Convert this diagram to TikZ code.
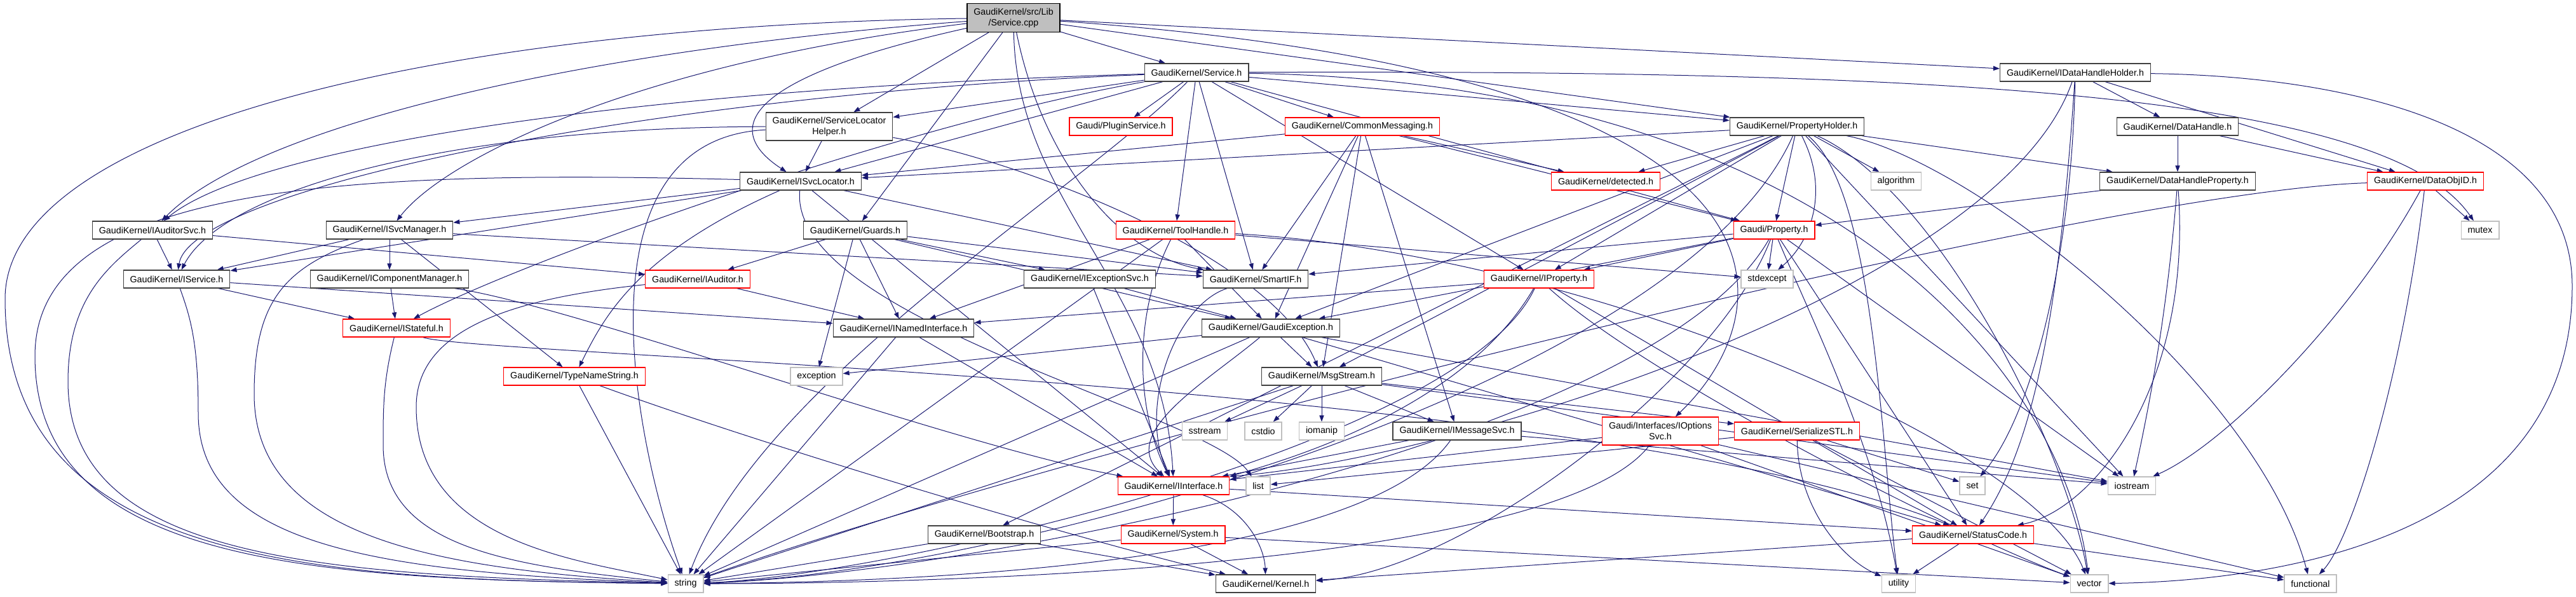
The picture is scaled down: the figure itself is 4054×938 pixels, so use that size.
\documentclass[tikz,border=0pt]{standalone}
\usepackage{fontspec}
\setmainfont{Liberation Sans}
\usetikzlibrary{arrows.meta}
\pgfdeclarelayer{bg}
\pgfsetlayers{bg,main}
\definecolor{edgeblue}{RGB}{25,25,112}
\definecolor{boxgrey}{RGB}{191,191,191}
\definecolor{rimgrey}{RGB}{64,64,64}

\begin{document}
\begin{tikzpicture}[x=0.5pt,y=-0.5pt]
    \tikzstyle{every node}+=[font=\fontsize{7.14}{8.4}\selectfont, inner xsep=5.2pt, inner ysep=0pt, minimum height=14pt, align=center, fill=white, line width=0.65pt]
    \tikzstyle{hdr}=[draw=rimgrey]
    \tikzstyle{trunc}=[draw=red]
    \tikzstyle{stdhdr}=[draw=boxgrey]
    \tikzstyle{rootfile}=[draw=black, fill=boxgrey]
    \tikzstyle{inc}=[edgeblue, line width=0.5pt, -{Triangle[length=5pt,width=3.6pt]}]
    \useasboundingbox (0,0) rectangle (4054,938);
    \node [rootfile, minimum height=22.5pt] (sc) at (1595,28) {GaudiKernel/src/Lib\\/Service.cpp};
    \node [hdr] (sh) at (1883,114) {GaudiKernel/Service.h};
    \node [hdr] (idh) at (3266,114) {GaudiKernel/IDataHandleHolder.h};
    \node [hdr, minimum height=22pt] (slh) at (1305,199) {GaudiKernel/ServiceLocator\\Helper.h};
    \node [trunc] (plg) at (1764,199) {Gaudi/PluginService.h};
    \node [trunc] (cm) at (2144,199) {GaudiKernel/CommonMessaging.h};
    \node [hdr] (ph) at (2828,199) {GaudiKernel/PropertyHolder.h};
    \node [hdr] (dh) at (3427,199) {GaudiKernel/DataHandle.h};
    \node [hdr] (isl) at (1260,285) {GaudiKernel/ISvcLocator.h};
    \node [trunc] (det) at (2527,285) {GaudiKernel/detected.h};
    \node [stdhdr] (alg) at (2984,285) {algorithm};
    \node [hdr] (dhp) at (3427,285) {GaudiKernel/DataHandleProperty.h};
    \node [trunc] (doi) at (3817,285) {GaudiKernel/DataObjID.h};
    \node [hdr] (ias) at (240,362) {GaudiKernel/IAuditorSvc.h};
    \node [hdr] (ism) at (613,362) {GaudiKernel/ISvcManager.h};
    \node [hdr] (grd) at (1346,362) {GaudiKernel/Guards.h};
    \node [trunc] (th) at (1850,362) {GaudiKernel/ToolHandle.h};
    \node [trunc] (prp) at (2792,362) {Gaudi/Property.h};
    \node [stdhdr] (mtx) at (3903,362) {mutex};
    \node [hdr] (isv) at (278,439) {GaudiKernel/IService.h};
    \node [hdr] (icm) at (613,439) {GaudiKernel/IComponentManager.h};
    \node [trunc] (iau) at (1098,439) {GaudiKernel/IAuditor.h};
    \node [hdr] (ies) at (1715,439) {GaudiKernel/IExceptionSvc.h};
    \node [hdr] (sif) at (1976,439) {GaudiKernel/SmartIF.h};
    \node [trunc] (ipr) at (2422,439) {GaudiKernel/IProperty.h};
    \node [stdhdr] (sexc) at (2781,439) {stdexcept};
    \node [trunc] (ist) at (624,516) {GaudiKernel/IStateful.h};
    \node [hdr] (inf) at (1422,516) {GaudiKernel/INamedInterface.h};
    \node [hdr] (gex) at (2000,516) {GaudiKernel/GaudiException.h};
    \node [trunc] (tns) at (904,592) {GaudiKernel/TypeNameString.h};
    \node [stdhdr] (exc) at (1285,592) {exception};
    \node [hdr] (mss) at (2080,592) {GaudiKernel/MsgStream.h};
    \node [stdhdr] (sst) at (1896,678) {sstream};
    \node [stdhdr] (csd) at (1988,678) {cstdio};
    \node [stdhdr] (iom) at (2080,678) {iomanip};
    \node [hdr] (ims) at (2293,678) {GaudiKernel/IMessageSvc.h};
    \node [trunc, minimum height=22pt] (ios) at (2613,678) {Gaudi/Interfaces/IOptions\\Svc.h};
    \node [trunc] (ser) at (2828,678) {GaudiKernel/SerializeSTL.h};
    \node [trunc] (iif) at (1847,764) {GaudiKernel/IInterface.h};
    \node [stdhdr] (lst) at (1980,764) {list};
    \node [stdhdr] (stdset) at (3104,764) {set};
    \node [stdhdr] (iostr) at (3355,764) {iostream};
    \node [hdr] (bts) at (1549,841) {GaudiKernel/Bootstrap.h};
    \node [trunc] (sys) at (1846,841) {GaudiKernel/System.h};
    \node [trunc] (stc) at (3105,841) {GaudiKernel/StatusCode.h};
    \node [stdhdr] (str) at (1079,918) {string};
    \node [hdr] (krn) at (1992,918) {GaudiKernel/Kernel.h};
    \node [stdhdr] (utl) at (2988,918) {utility};
    \node [stdhdr] (vec) at (3288,918) {vector};
    \node [stdhdr] (fnc) at (3636,918) {functional};
    \begin{pgfonlayer}{bg}
    \draw [inc] (sc) -- (sh);
    \draw [inc] (sc) -- (slh);
    \draw [inc] (sc) .. controls (1180,120) and (1130,200) .. (isl);
    \draw [inc] (sc) .. controls (900,80) and (400,200) .. (ias);
    \draw [inc] (sc) .. controls (1000,100) and (700,250) .. (ism);
    \draw [inc] (sc) -- (grd);
    \draw [inc] (sc) -- (idh);
    \draw [inc] (sc) -- (ph);
    \draw [inc] (sc) .. controls (2900,120) and (2800,500) .. (ios);
    \draw [inc] (sc) .. controls (1600,320) and (1830,450) .. (iif);
    \draw [inc] (sc) .. controls (1640,250) and (1760,400) .. (sif);
    \draw [inc] (sc) .. controls (700,40) and (8,200) .. (8,470) .. controls (8,890) and (500,912) .. (str);
    \draw [inc] (sh) -- (cm);
    \draw [inc] (sh) -- (plg);
    \draw [inc] (sh) -- (th);
    \draw [inc] (sh) -- (sif);
    \draw [inc] (sh) -- (ipr);
    \draw [inc] (sh) -- (prp);
    \draw [inc] (sh) -- (ph);
    \draw [inc] (sh) .. controls (1000,140) and (400,230) .. (ias);
    \draw [inc] (sh) .. controls (1000,150) and (300,300) .. (isv);
    \draw [inc] (sh) .. controls (1400,200) and (800,420) .. (ist);
    \draw [inc] (sh) -- (isl);
    \draw [inc] (sh) -- (slh);
    \draw [inc] (sh) .. controls (2900,130) and (3250,600) .. (vec);
    \draw [inc] (sh) .. controls (3000,110) and (3750,140) .. (mtx);
    \draw [inc] (sh) .. controls (1700,300) and (1200,600) .. (str);
    \draw [inc] (slh) -- (isl);
    \draw [inc] (slh) .. controls (700,200) and (350,300) .. (isv);
    \draw [inc] (slh) .. controls (1600,250) and (2000,400) .. (mss);
    \draw [inc] (slh) .. controls (900,220) and (1000,700) .. (str);
    \draw [inc] (isl) -- (iif);
    \draw [inc] (isl) -- (ism);
    \draw [inc] (isl) -- (isv);
    \draw [inc] (isl) -- (sif);
    \draw [inc] (isl) .. controls (1000,400) and (950,500) .. (tns);
    \draw [inc] (isl) .. controls (1240,500) and (1900,650) .. (lst);
    \draw [inc] (isl) .. controls (500,265) and (55,300) .. (55,560) .. controls (55,890) and (500,912) .. (str);
    \draw [inc] (ias) -- (isv);
    \draw [inc] (ias) -- (iau);
    \draw [inc] (ias) .. controls (170,420) and (107,470) .. (107,600) .. controls (107,880) and (500,905) .. (str);
    \draw [inc] (ism) -- (icm);
    \draw [inc] (ism) -- (isv);
    \draw [inc] (ism) -- (tns);
    \draw [inc] (ism) -- (sif);
    \draw [inc] (ism) .. controls (450,420) and (400,470) .. (400,620) .. controls (400,850) and (700,895) .. (str);
    \draw [inc] (icm) -- (ist);
    \draw [inc] (icm) .. controls (900,480) and (1500,700) .. (iif);
    \draw [inc] (isv) -- (inf);
    \draw [inc] (isv) -- (ist);
    \draw [inc] (isv) .. controls (300,500) and (312,540) .. (312,650) .. controls (312,860) and (600,900) .. (str);
    \draw [inc] (ist) .. controls (750,560) and (2500,600) .. (stc);
    \draw [inc] (ist) .. controls (603,600) and (603,640) .. (603,700) .. controls (603,860) and (800,890) .. (str);
    \draw [inc] (iau) -- (inf);
    \draw [inc] (iau) .. controls (800,470) and (655,520) .. (655,640) .. controls (655,850) and (900,880) .. (str);
    \draw [inc] (grd) -- (iau);
    \draw [inc] (grd) -- (ies);
    \draw [inc] (grd) -- (gex);
    \draw [inc] (grd) -- (exc);
    \draw [inc] (grd) -- (inf);
    \draw [inc] (grd) -- (sif);
    \draw [inc] (inf) -- (iif);
    \draw [inc] (inf) -- (str);
    \draw [inc] (tns) -- (str);
    \draw [inc] (tns) .. controls (1200,700) and (1700,850) .. (krn);
    \draw [inc] (ies) -- (iif);
    \draw [inc] (ies) -- (gex);
    \draw [inc] (sif) .. controls (1850,480) and (1790,640) .. (iif);
    \draw [inc] (th) -- (inf);
    \draw [inc] (th) -- (gex);
    \draw [inc] (th) -- (str);
    \draw [inc] (th) -- (sexc);
    \draw [inc] (th) .. controls (2500,400) and (3200,700) .. (vec);
    \draw [inc] (th) .. controls (1780,500) and (1790,650) .. (iif);
    \draw [inc] (cm) -- (ims);
    \draw [inc] (cm) -- (mss);
    \draw [inc] (cm) -- (isl);
    \draw [inc] (cm) -- (sif);
    \draw [inc] (cm) -- (det);
    \draw [inc] (cm) -- (prp);
    \draw [inc] (cm) -- (gex);
    \draw [inc] (ph) -- (prp);
    \draw [inc] (ph) .. controls (2880,300) and (2850,380) .. (sexc);
    \draw [inc] (ph) -- (alg);
    \draw [inc] (ph) -- (dhp);
    \draw [inc] (ph) -- (det);
    \draw [inc] (ph) -- (ipr);
    \draw [inc] (ph) -- (isl);
    \draw [inc] (ph) -- (gex);
    \draw [inc] (ph) -- (mss);
    \draw [inc] (ph) -- (bts);
    \draw [inc] (ph) .. controls (2650,600) and (1600,900) .. (str);
    \draw [inc] (ph) -- (iostr);
    \draw [inc] (ph) .. controls (3050,300) and (3250,700) .. (vec);
    \draw [inc] (ph) .. controls (2950,300) and (2960,700) .. (utl);
    \draw [inc] (ph) .. controls (3100,250) and (3550,600) .. (fnc);
    \draw [inc] (prp) -- (ipr);
    \draw [inc] (prp) -- (sexc);
    \draw [inc] (prp) .. controls (2600,700) and (1500,905) .. (str);
    \draw [inc] (prp) .. controls (2850,500) and (2950,700) .. (utl);
    \draw [inc] (prp) -- (iostr);
    \draw [inc] (prp) -- (sif);
    \draw [inc] (prp) .. controls (2700,600) and (2300,900) .. (krn);
    \draw [inc] (prp) -- (gex);
    \draw [inc] (prp) -- (stc);
    \draw [inc] (ipr) -- (inf);
    \draw [inc] (ipr) .. controls (2300,700) and (1400,905) .. (str);
    \draw [inc] (ipr) .. controls (2600,600) and (3100,850) .. (vec);
    \draw [inc] (ipr) -- (stc);
    \draw [inc] (ipr) .. controls (2300,650) and (2000,730) .. (iif.north east);
    \draw [inc] (idh) -- (dh);
    \draw [inc] (idh) -- (doi);
    \draw [inc] (idh) .. controls (3150,450) and (2300,720) .. (iif.north east);
    \draw [inc] (idh) .. controls (3260,400) and (3200,650) .. (stdset);
    \draw [inc] (idh) .. controls (3240,500) and (3200,700) .. (stc);
    \draw [inc] (idh) .. controls (3700,120) and (4048,200) .. (4048,450) .. controls (4048,880) and (3500,915) .. (vec);
    \draw [inc] (dh) -- (dhp);
    \draw [inc] (dh) -- (doi);
    \draw [inc] (dhp) -- (prp);
    \draw [inc] (dhp) .. controls (3410,500) and (3380,650) .. (iostr);
    \draw [inc] (dhp) .. controls (3450,600) and (3300,800) .. (stc);
    \draw [inc] (doi) -- (mtx);
    \draw [inc] (doi) .. controls (3300,300) and (1700,700) .. (str);
    \draw [inc] (doi) .. controls (3700,500) and (3500,700) .. (iostr);
    \draw [inc] (doi) .. controls (3780,600) and (3700,850) .. (fnc);
    \draw [inc] (gex) -- (mss);
    \draw [inc] (gex) -- (exc);
    \draw [inc] (gex) -- (stc);
    \draw [inc] (gex) -- (str);
    \draw [inc] (gex) .. controls (1900,600) and (1760,680) .. (iif);
    \draw [inc] (gex) -- (iostr);
    \draw [inc] (mss) -- (ims);
    \draw [inc] (mss) -- (sst);
    \draw [inc] (mss) -- (csd);
    \draw [inc] (mss) -- (iom);
    \draw [inc] (mss) -- (ser);
    \draw [inc] (mss) -- (iostr);
    \draw [inc] (mss) -- (str);
    \draw [inc] (ims) -- (iif);
    \draw [inc] (ims) .. controls (2150,880) and (1500,915) .. (str);
    \draw [inc] (ims) -- (iostr);
    \draw [inc] (ios) -- (iif);
    \draw [inc] (ios) .. controls (2450,890) and (1500,918) .. (str);
    \draw [inc] (ios) -- (vec);
    \draw [inc] (ios) -- (fnc);
    \draw [inc] (ser) -- (lst);
    \draw [inc] (ser) -- (stdset);
    \draw [inc] (ser) .. controls (2830,800) and (2900,880) .. (utl);
    \draw [inc] (ser) -- (vec);
    \draw [inc] (iif) -- (sys);
    \draw [inc] (iif) .. controls (1960,800) and (1990,860) .. (krn);
    \draw [inc] (iif) -- (stc);
    \draw [inc] (sys) -- (krn);
    \draw [inc] (sys) -- (str);
    \draw [inc] (sys) -- (vec);
    \draw [inc] (bts) -- (krn);
    \draw [inc] (bts) -- (str);
    \draw [inc] (stc) -- (utl);
    \draw [inc] (stc) -- (krn);
    \draw [inc] (stc) -- (fnc);
    \end{pgfonlayer}
\end{tikzpicture}
\end{document}
